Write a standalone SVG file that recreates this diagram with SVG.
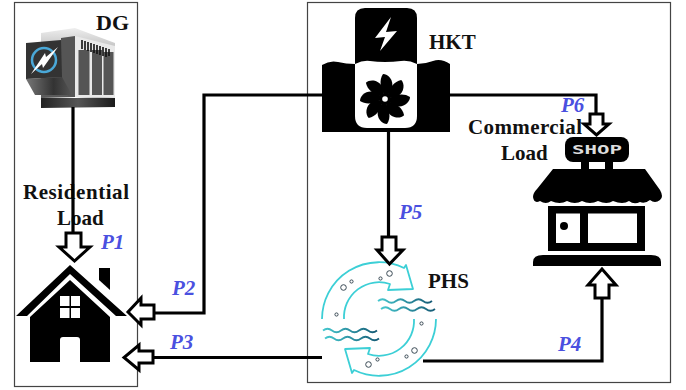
<svg xmlns="http://www.w3.org/2000/svg" xmlns:xlink="http://www.w3.org/1999/xlink" width="686" height="390" viewBox="0 0 686 390">
<style>
.box{fill:none;stroke:#444;stroke-width:1.2}
.lbl{font-family:"Liberation Serif","Times New Roman",serif;font-weight:700;font-size:21px;fill:#111}
.p{font-family:"Liberation Serif","Times New Roman",serif;font-weight:700;font-style:italic;font-size:21px;fill:#4a50e0}
.wire{fill:none;stroke:#000;stroke-width:3.2}
.arr{fill:#fff;stroke:#000;stroke-width:3;stroke-linejoin:miter}
.teal{fill:none;stroke:#3ccfd6;stroke-width:1.8;stroke-linejoin:round}
.bub{fill:#fff;stroke:#3a4a55;stroke-width:1}
.wave{fill:none;stroke:url(#wv);stroke-width:1.8}
</style>
<defs>
<linearGradient id="wv" x1="0" x2="1" y1="0" y2="0"><stop offset="0" stop-color="#45c8cf"/><stop offset="1" stop-color="#155a75"/></linearGradient>
<linearGradient id="hop" x1="0" x2="1" y1="0" y2="0"><stop offset="0" stop-color="#777"/><stop offset=".6" stop-color="#333"/><stop offset="1" stop-color="#555"/></linearGradient>
<linearGradient id="base" x1="0" x2="1" y1="0" y2="0"><stop offset="0" stop-color="#222"/><stop offset=".5" stop-color="#555"/><stop offset="1" stop-color="#1a1a1a"/></linearGradient>
<linearGradient id="top" x1="0" x2="0" y1="0" y2="1"><stop offset="0" stop-color="#eee"/><stop offset="1" stop-color="#555"/></linearGradient>
<path id="blade" d="M385 96C380 88 379 80 383 74C388 74 394 80 392 88C391 92 388 95 385 96Z"/>
<path id="phsarm" d="M322 319A57 57 0 0 1 404 268L406 265L413 289L388 290L390 284A35 35 0 0 0 344 319"/>
<path id="w" d="M0 0q4.500 -3.500 9 0t9 0t9 0t9 0t9 0t9 0"/>
</defs>
<rect width="686" height="390" fill="#fff"/>
<rect class="box" x="14.500" y="2.500" width="123" height="384"/>
<rect class="box" x="307.500" y="2.500" width="363" height="380"/>

<g id="dg">
<polygon points="41,33 75,28 115,43 115,98 75,97 41,98" fill="url(#top)"/>
<polygon points="75,36 115,46 115,98 75,97" fill="#e9e9e9"/>
<polygon points="61,38 75,36 75,97 68,96 61,78" fill="#555"/>
<polygon points="26,79 62,77 72,95 35,95" fill="url(#hop)"/>
<polygon points="26,43 61,40 62,77 26,79" fill="#333"/>
<circle cx="44" cy="60" r="12" fill="none" stroke="#4aa8d8" stroke-width="2.500"/>
<polygon points="58,47 46,57 45,53 31,74 42,64 43,68" fill="#fff"/>
<rect x="78.500" y="50" width="11" height="45" fill="#555"/>
<rect x="92" y="50" width="10" height="45" fill="#555"/>
<rect x="103.500" y="52" width="10" height="43" fill="#555"/>
<path d="M82 40v9M85 41v9M88 42v9M91 43v9M94 44v9M97 45v9M100 46v9M103 47v9M106 48v9M109 49v7" stroke="#111" stroke-width="1.600"/>
<polygon points="41,98 115,98 115,107 41,108" fill="url(#base)"/>
<text class="lbl" x="96" y="30" style="font-size:22px">DG</text>
</g>

<g id="residential">
<text class="lbl" x="23" y="199" textLength="106">Residential</text>
<text class="lbl" x="57" y="225">Load</text>
<polygon points="70,265 127,316 116,316 70,274 27,316 16,316"/>
<polygon points="99,280 110,290 110,268 99,268"/>
<path d="M30 362V317L70 280L110 317V362H80V340Q80 337 77 337H63Q60 337 60 340V362Z"/>
<path d="M60 296h9.500v10h-9.500zM71 296h9v10h-9zM60 308h9.500v10h-9.500zM71 308h9v10h-9z" fill="#fff"/>
<text class="p" x="101" y="249">P1</text>
</g>

<g id="hkt">
<path d="M322 65q8 -5 16 -3t17 2V18q0 -10 10 -10h42q10 0 10 10V64q8 0 16 -3t17 3V132H322Z"/>
<path d="M355 64q8 -4 15 -3t15 1t16 -1t16 3V116q0 12 -12 12H367q-12 0 -12 -12Z" fill="#fff"/>
<g>
<use xlink:href="#blade"/>
<use xlink:href="#blade" transform="rotate(45 385 99)"/>
<use xlink:href="#blade" transform="rotate(90 385 99)"/>
<use xlink:href="#blade" transform="rotate(135 385 99)"/>
<use xlink:href="#blade" transform="rotate(180 385 99)"/>
<use xlink:href="#blade" transform="rotate(225 385 99)"/>
<use xlink:href="#blade" transform="rotate(270 385 99)"/>
<use xlink:href="#blade" transform="rotate(315 385 99)"/>
<circle cx="385" cy="99" r="6"/>
<circle cx="385" cy="99" r="2.800" fill="#fff"/>
</g>
<polygon points="391,17 375,38 385,37 380,51 397,31 386,32" fill="#fff"/>
<text class="lbl" x="429" y="49">HKT</text>
</g>

<g id="phs">
<use xlink:href="#phsarm" class="teal"/>
<use xlink:href="#phsarm" class="teal" transform="rotate(180 379 319)"/>
<circle class="bub" cx="389.500" cy="273.500" r="2.800"/>
<circle class="bub" cx="380.500" cy="278.500" r="1.600"/>
<circle class="bub" cx="351.500" cy="281.500" r="1.600"/>
<circle class="bub" cx="343.500" cy="287.500" r="2.800"/>
<circle class="bub" cx="336.500" cy="314.500" r="1.600"/>
<circle class="bub" cx="421.500" cy="323.500" r="1.600"/>
<circle class="bub" cx="414.500" cy="350.500" r="2.800"/>
<circle class="bub" cx="406.500" cy="356.500" r="1.600"/>
<circle class="bub" cx="377.500" cy="359.500" r="1.600"/>
<circle class="bub" cx="368.500" cy="364.500" r="2.800"/>
<use xlink:href="#w" class="wave" transform="translate(378 301)"/>
<use xlink:href="#w" class="wave" transform="translate(381 309)"/>
<use xlink:href="#w" class="wave" transform="translate(323 330.500)"/>
<use xlink:href="#w" class="wave" transform="translate(325 338.500)"/>
<text class="lbl" x="428" y="288">PHS</text>
</g>

<g id="shop">
<text class="lbl" x="468" y="134" textLength="114">Commercial</text>
<text class="lbl" x="501" y="160">Load</text>
<rect x="565" y="137" width="64" height="25" rx="8"/>
<text x="572" y="153.500" textLength="50" lengthAdjust="spacingAndGlyphs" font-family="DejaVu Sans Mono,Liberation Mono,monospace" font-weight="700" font-size="13" fill="#ddd">SHOP</text>
<rect x="581" y="160" width="8" height="11"/>
<rect x="605" y="160" width="8" height="11"/>
<path d="M553 169H645L660 190Q664 197 660 200Q655 204 650 200Q645 204 640 202Q634 205 629 201Q623 205 613 201Q607 205 598 201Q590 205 582 201Q575 205 567 201Q560 205 551 201Q546 205 540 201Q534 204 533 197Q533 193 537 189Z"/>
<path d="M548 206H645V251H548ZM556 213.500V243H580V213.500ZM588 213.500V243H637V213.500Z" fill-rule="evenodd"/>
<circle cx="564" cy="226" r="4"/>
<path d="M533 266V262Q533 255 543 255H651Q661 255 661 262V266Z"/>
<text class="p" x="561" y="112">P6</text>
</g>

<g id="labels">
<text class="p" x="172" y="295">P2</text>
<text class="p" x="170" y="349">P3</text>
<text class="p" x="558" y="351">P4</text>
<text class="p" x="399" y="219">P5</text>
</g>

<g id="connectors">
<path class="wire" d="M73 107V235"/>
<polygon class="arr" points="66,233 81,233 81,247 90,247 74.500,261 59,247 66,247"/>
<path class="wire" d="M153 313H204V95H322"/>
<polygon class="arr" points="154,305 141,305 141,298 128,312 141,325 141,319 154,319"/>
<path class="wire" d="M152 357.500H322"/>
<polygon class="arr" points="153,351 139,351 139,345 124,357.500 139,370 139,363 153,363"/>
<path class="wire" d="M450 95H596V115"/>
<polygon class="arr" points="590,114 603,114 603,124 609,124 596.500,135 584,124 590,124"/>
<path class="wire" d="M388.500 132V240"/>
<polygon class="arr" points="382,237 396,237 396,250 403,250 389.500,264 377,250 382,250"/>
<path class="wire" d="M423 361H602V298"/>
<polygon class="arr" points="595,298 609,298 609,285 616,285 602,269 588,285 595,285"/>
</g>
</svg>
